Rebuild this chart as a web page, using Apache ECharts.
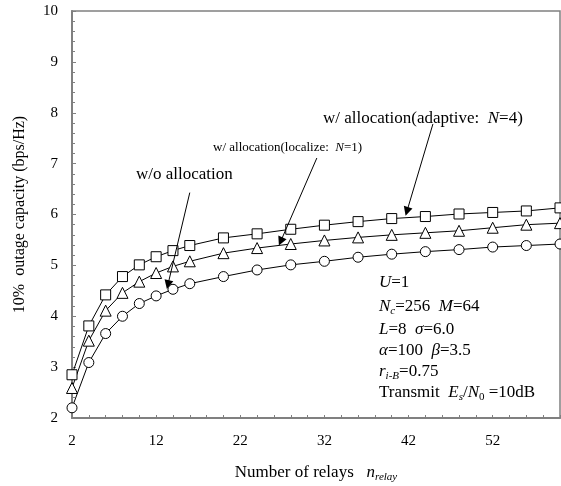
<!DOCTYPE html>
<html>
<head>
<meta charset="utf-8">
<script src="https://cdn.jsdelivr.net/npm/echarts@6/dist/echarts.min.js"></script>
<style>
  html, body { margin: 0; padding: 0; background: #fff; }
  #chart { width: 561px; height: 486px; }
</style>
</head>
<body>
<div id="chart"></div>
<script>
// number of relays
const relays = [2, 4, 6, 8, 10, 12, 14, 16, 20, 24, 28, 32, 36, 40, 44, 48, 52, 56, 60];
// w/ allocation (adaptive: N=4)  - squares
const adaptive = [2.85, 3.81, 4.42, 4.78, 5.01, 5.17, 5.29, 5.39, 5.54, 5.62, 5.71, 5.79, 5.86, 5.92, 5.96, 6.01, 6.04, 6.07, 6.13];
// w/ allocation (localize: N=1) - triangles
const localize = [2.59, 3.52, 4.11, 4.46, 4.68, 4.85, 4.98, 5.08, 5.24, 5.34, 5.42, 5.49, 5.55, 5.60, 5.64, 5.68, 5.74, 5.80, 5.83];
// w/o allocation - circles
const noAlloc = [2.20, 3.09, 3.66, 4.00, 4.25, 4.40, 4.53, 4.64, 4.78, 4.91, 5.01, 5.08, 5.16, 5.22, 5.27, 5.31, 5.36, 5.39, 5.42];

// arrow annotations [from, to] in data units
const arrowNoAlloc = [[16.0, 6.43], [13.4, 4.62]];
const arrowLocalize = [[31.1, 7.11], [26.8, 5.47]];
const arrowAdaptive = [[44.9, 7.78], [41.8, 6.06]];

const FONT = 'Liberation Serif';

const chart = echarts.init(document.getElementById('chart'));

function pairs(ys) {
  return relays.map((x, i) => [x, ys[i]]);
}

function arrow(a) {
  return {
    silent: true,
    animation: false,
    symbol: ['none', 'triangle'],
    symbolSize: 9,
    label: { show: false },
    itemStyle: { color: '#000' },
    lineStyle: { color: '#000', width: 1, type: 'solid' },
    emphasis: { disabled: true },
    z: 10,
    data: [[{ coord: a[0] }, { coord: a[1] }]]
  };
}

function line(name, ys, symbol, size, a) {
  return {
    name: name,
    type: 'line',
    data: pairs(ys),
    symbol: symbol,
    symbolSize: size,
    showAllSymbol: true,
    lineStyle: { color: '#000', width: 1 },
    itemStyle: { color: '#fff', borderColor: '#000', borderWidth: 1 },
    emphasis: { disabled: true },
    markLine: arrow(a),
    z: 3
  };
}

const rich = {
  n: { fontFamily: FONT, fontSize: 17, lineHeight: 20, color: '#000' },
  i: { fontFamily: FONT, fontSize: 17, lineHeight: 20, fontStyle: 'italic', color: '#000' },
  si: { fontFamily: FONT, fontSize: 11, lineHeight: 10, fontStyle: 'italic', verticalAlign: 'bottom', color: '#000' },
  s: { fontFamily: FONT, fontSize: 11, lineHeight: 10, verticalAlign: 'bottom', color: '#000' }
};

const paramLines = [
  '{i|U}{n|=1}',
  '{i|N}{si|c}{n|=256  }{i|M}{n|=64}',
  '{i|L}{n|=8  }{i|σ}{n|=6.0}',
  '{i|α}{n|=100  }{i|β}{n|=3.5}',
  '{i|r}{si|i-B}{n|=0.75}',
  '{n|Transmit  }{i|E}{si|s}{n|/}{i|N}{s|0}{n| =10dB}'
];
const paramY = [283, 307, 330, 351, 372, 393];

const graphics = paramLines.map((t, k) => ({
  type: 'text',
  x: 379,
  y: paramY[k],
  silent: true,
  style: { text: t, rich: rich, align: 'left', verticalAlign: 'middle' }
}));

graphics.push({
  type: 'text', x: 136, y: 175, silent: true,
  style: { text: 'w/o allocation', font: '17px ' + FONT, fill: '#000', align: 'left', verticalAlign: 'middle' }
});
graphics.push({
  type: 'text', x: 213, y: 148, silent: true,
  style: {
    text: '{a|w/ allocation(localize:  }{b|N}{a|=1)}',
    rich: {
      a: { fontFamily: FONT, fontSize: 13, color: '#000' },
      b: { fontFamily: FONT, fontSize: 13, fontStyle: 'italic', color: '#000' }
    },
    align: 'left', verticalAlign: 'middle'
  }
});
graphics.push({
  type: 'text', x: 323, y: 119, silent: true,
  style: {
    text: '{a|w/ allocation(adaptive:  }{b|N}{a|=4)}',
    rich: {
      a: { fontFamily: FONT, fontSize: 17, color: '#000' },
      b: { fontFamily: FONT, fontSize: 17, fontStyle: 'italic', color: '#000' }
    },
    align: 'left', verticalAlign: 'middle'
  }
});

const option = {
  animation: false,
  backgroundColor: '#fff',
  grid: {
    left: 72, right: 1, top: 11, bottom: 68,
    show: true, borderColor: '#808080', borderWidth: 1.5,
    outerBoundsMode: 'none'
  },
  xAxis: {
    type: 'value',
    min: 2, max: 60, interval: 2,
    splitLine: { show: false },
    axisLine: { onZero: false, lineStyle: { color: '#808080', width: 2 } },
    axisTick: { inside: true, length: 3, lineStyle: { color: '#808080' } },
    axisLabel: {
      margin: 16, color: '#000', fontFamily: FONT, fontSize: 15,
      formatter: v => ((v - 2) % 10 === 0 && v < 60) ? String(v) : ''
    },
    name: '{n|Number of relays   }{i|n}{si|relay}',
    nameLocation: 'middle',
    nameGap: 45,
    nameTextStyle: {
      rich: {
        n: { fontFamily: FONT, fontSize: 17, lineHeight: 20, color: '#000' },
        i: { fontFamily: FONT, fontSize: 17, lineHeight: 20, fontStyle: 'italic', color: '#000' },
        si: { fontFamily: FONT, fontSize: 11, lineHeight: 10, fontStyle: 'italic', verticalAlign: 'bottom', color: '#000' }
      }
    }
  },
  yAxis: {
    type: 'value',
    min: 2, max: 10, interval: 1,
    splitLine: { show: false },
    axisLine: { onZero: false, lineStyle: { color: '#808080', width: 2 } },
    axisTick: { inside: true, length: 4, lineStyle: { color: '#808080' } },
    minorTick: { show: true, splitNumber: 5, length: 3, lineStyle: { color: '#808080' } },
    axisLabel: { margin: 14, color: '#000', fontFamily: FONT, fontSize: 15 },
    name: '10%  outage capacity (bps/Hz)',
    nameLocation: 'middle',
    nameGap: 44,
    nameTextStyle: { color: '#000', fontFamily: FONT, fontSize: 16 }
  },
  series: [
    line('w/o allocation', noAlloc, 'circle', 10, arrowNoAlloc),
    line('w/ allocation(localize: N=1)', localize, 'triangle', 11, arrowLocalize),
    line('w/ allocation(adaptive: N=4)', adaptive, 'rect', 10, arrowAdaptive)
  ],
  graphic: graphics
};

chart.setOption(option);
</script>
</body>
</html>
